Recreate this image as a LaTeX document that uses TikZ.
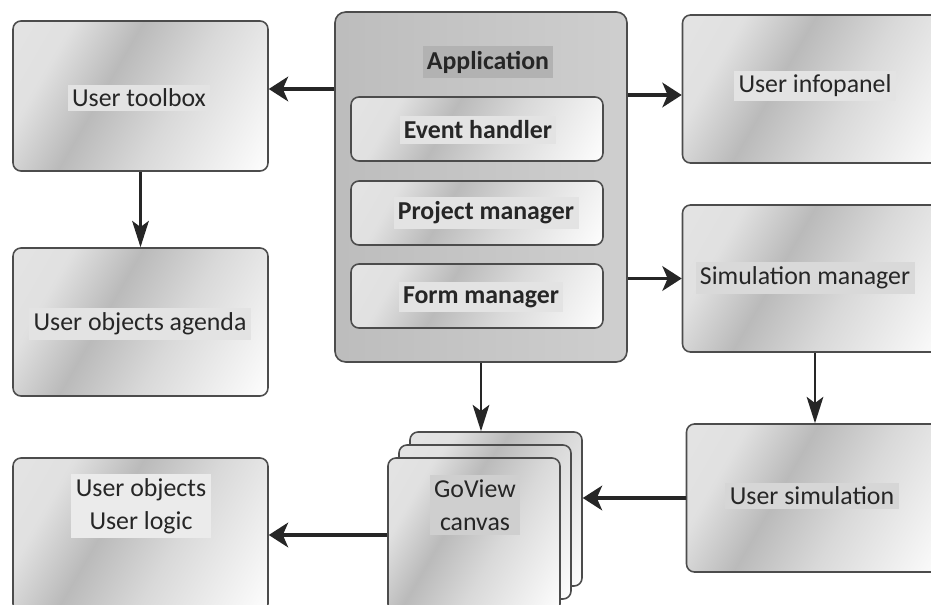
\documentclass[tikz,border=0pt]{standalone}
\usepackage{fontspec}
\setmainfont{Carlito}
\usetikzlibrary{arrows.meta,calc}
\pgfdeclarehorizontalshading{metal}{100bp}{color(0bp)=(black!9); color(28bp)=(black!12); color(42bp)=(black!27); color(58bp)=(black!15); color(85bp)=(white); color(100bp)=(white)}
\tikzset{
  block/.style={
    draw=black!70,
    line width=0.9pt,
    rounded corners=4.5pt,
    shading=metal,
    shading angle=-30
  },
  appblock/.style={
    draw=black!70,
    line width=0.9pt,
    rounded corners=6pt,
    left color=black!26,
    right color=black!19
  },
  txt/.style={
    fill=black!11,
    text=black!85,
    inner sep=2.5pt,
    font=\fontsize{14.7}{17}\selectfont
  },
  btxt/.style={
    txt,
    font=\fontsize{14.7}{17}\selectfont\bfseries
  },
  twoline/.style={
    txt,
    align=center,
    font=\fontsize{14.7}{18.5}\selectfont
  },
  harrow/.style={
    line width=2pt,
    draw=black!85,
    -{Stealth[length=11pt,width=14pt,inset=3pt]}
  },
  varrow/.style={
    line width=1.3pt,
    draw=black!85,
    -{Stealth[length=15pt,width=9.5pt,inset=3.5pt]}
  }
}
\begin{document}
\begin{tikzpicture}[x=0.02cm,y=-0.02cm]
    \clip (0,0) rectangle (931,605);
    \node[block,minimum width=5.1cm,minimum height=3cm] (tool) at (140.5,96) {};
    \node[block,minimum width=5.1cm,minimum height=2.96cm] (agenda) at (140.5,322) {};
    \node[block,minimum width=5.1cm,minimum height=3.08cm] (obj) at (140.5,535) {};
    \node[appblock,minimum width=5.84cm,minimum height=7cm] (app) at (481,187) {};
    \foreach \n/\y in {evt/129,prj/213,frm/296}{
        \node[block,minimum width=5.04cm,minimum height=1.28cm] (\n) at (477,\y) {};
    }
    \node[block,minimum width=5.3cm,minimum height=2.96cm] (info) at (815,89) {};
    \node[block,minimum width=5.3cm,minimum height=2.94cm] (sim) at (815,278.5) {};
    \node[block,minimum width=5.18cm,minimum height=2.96cm] (usim) at (816,498) {};
    \node[block,minimum width=3.44cm,minimum height=3.08cm] (cv2) at (496,509) {};
    \node[block,minimum width=3.44cm,minimum height=3.08cm] (cv1) at (485,522) {};
    \node[block,minimum width=3.44cm,minimum height=3.08cm] (cv) at (474,535) {};

    \node[txt] (tooltxt) at (139,98) {User toolbox};
    \node[txt] (agendatxt) at (140,324) {User objects agenda};
    \node[twoline,fill=black!8] (objtxt) at (141,506) {User objects\\User logic};
    \node[btxt,fill=black!30] (apptxt) at (488,62) {Application};
    \node[btxt] (evttxt) at (478,130) {Event handler};
    \node[btxt] (prjtxt) at (486,213) {Project manager};
    \node[btxt] (frmtxt) at (481,297) {Form manager};
    \node[txt] (infotxt) at (815,86) {User infopanel};
    \node[txt,fill=black!15] (simtxt) at (805,278) {Simulation manager};
    \node[txt,fill=black!16] (usimtxt) at (812,496) {User simulation};
    \node[twoline,fill=black!19] (cvtxt) at (475,505) {GoView\\canvas};

    \draw[harrow] ($(tool.east -| app.west)+(0,-7)$) -- ($(tool.east)+(0,-7)$);
    \draw[harrow] ($(info.west -| app.east)+(0,6)$) -- ($(info.west)+(0,6)$);
    \draw[harrow] (app.east |- sim.west) -- (sim.west);
    \draw[harrow] (usim.west) -- (usim.west -| cv2.east);
    \draw[harrow] (cv.west) -- (obj.east);
    \draw[varrow] (tool.south) -- (agenda.north);
    \draw[varrow] (sim.south) -- (sim.south |- usim.north);
    \draw[varrow] (app.south) -- (app.south |- cv2.north);
\end{tikzpicture}
\end{document}
